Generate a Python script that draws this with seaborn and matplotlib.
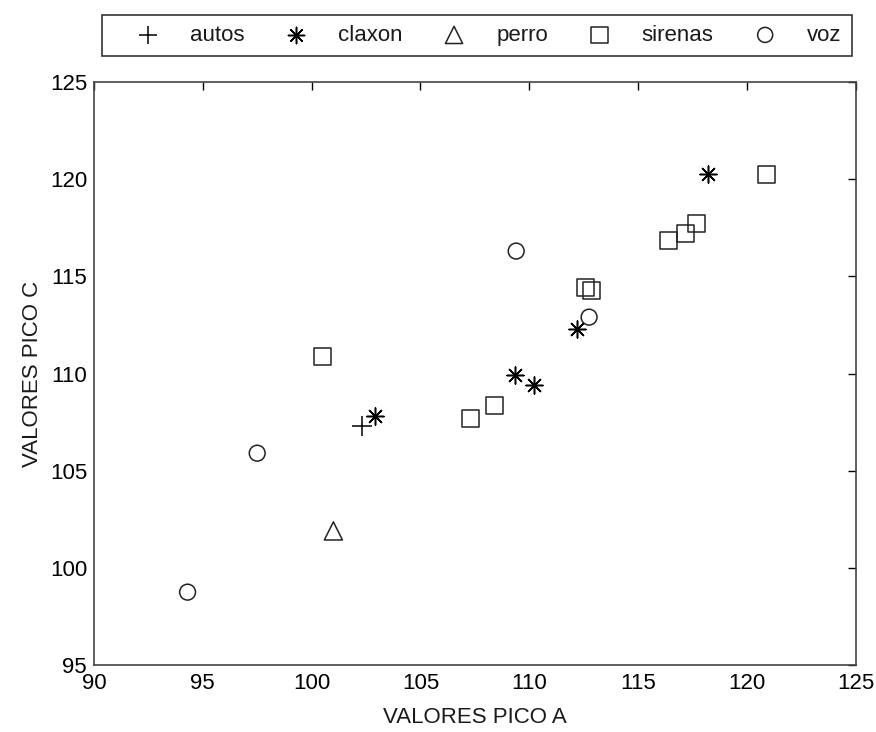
import matplotlib
matplotlib.use("Agg")
import matplotlib.pyplot as plt
import numpy as np
import pandas as pd
import seaborn as sns

# data
autos_x = [102.3]
autos_y = [107.3]
claxon_x = [102.9, 109.35, 110.2, 112.2, 118.2]
claxon_y = [107.8, 109.9, 109.4, 112.3, 120.25]
perro_x = [101.0]
perro_y = [101.9]
sirenas_x = [100.5, 107.3, 108.4, 112.6, 112.85, 116.4, 117.2, 117.7, 120.9]
sirenas_y = [110.85, 107.7, 108.35, 114.4, 114.25, 116.85, 117.2, 117.7, 120.25]
voz_x = [94.3, 97.5, 109.4, 112.75]
voz_y = [98.75, 105.9, 116.3, 112.9]

categories = ["autos", "claxon", "perro", "sirenas", "voz"]
xticks = [90, 95, 100, 105, 110, 115, 120, 125]
yticks = [95, 100, 105, 110, 115, 120, 125]

frames = []
for name, xs, ys in [("autos", autos_x, autos_y), ("claxon", claxon_x, claxon_y),
                     ("perro", perro_x, perro_y), ("sirenas", sirenas_x, sirenas_y),
                     ("voz", voz_x, voz_y)]:
    frames.append(pd.DataFrame({"a": xs, "c": ys, "clase": name}))
df = pd.concat(frames, ignore_index=True)

sns.set_style("white")
plt.rcParams["font.family"] = ["Liberation Sans", "DejaVu Sans"]
plt.rcParams["text.color"] = "#1a1a1a"
plt.rcParams["axes.labelcolor"] = "#1a1a1a"

# marker, size, filled?
styles = {
    "autos": ("+", 200, False),
    "claxon": ((8, 2, 0), 150, False),
    "perro": ("^", 170, True),
    "sirenas": ("s", 150, True),
    "voz": ("o", 130, True),
}

fig = plt.figure(figsize=(8.76, 7.32), dpi=100)
ax = fig.add_axes([0.1073, 0.0915, 0.8695, 0.7965])

for name in categories:
    m, s, filled = styles[name]
    sub = df[df["clase"] == name]
    if filled:
        sns.scatterplot(data=sub, x="a", y="c", marker=m, s=s, ax=ax,
                        facecolor="none", edgecolor="#222222", linewidth=1.1,
                        label=name)
    else:
        sns.scatterplot(data=sub, x="a", y="c", marker=m, s=s, ax=ax,
                        color="black", linewidth=1.1, label=name)

ax.set_xlim(90, 125)
ax.set_ylim(95, 125)
ax.set_xticks(xticks)
ax.set_yticks(yticks)
ax.tick_params(direction="in", length=6, width=1, top=True, right=True,
               labelsize=16, colors="black")
ax.tick_params(axis="x", pad=6)
ax.tick_params(axis="y", pad=5)
for sp in ax.spines.values():
    sp.set_visible(True)
    sp.set_color("#444444")
    sp.set_linewidth(1.2)
ax.set_xlabel("VALORES PICO A", fontsize=16, labelpad=9)
ax.set_ylabel("VALORES PICO C", fontsize=16, labelpad=5)

leg = ax.legend(loc="lower left", bbox_to_anchor=(0.0105, 1.045, 0.9845, 0.082),
                mode="expand", ncol=5, frameon=True, fancybox=False,
                fontsize=16, handletextpad=0.3, handlelength=3.2,
                borderaxespad=0, markerscale=0.95, borderpad=0.45)
leg.get_frame().set_edgecolor("black")
leg.get_frame().set_linewidth(1.2)

fig.savefig("out.png", dpi=100)
